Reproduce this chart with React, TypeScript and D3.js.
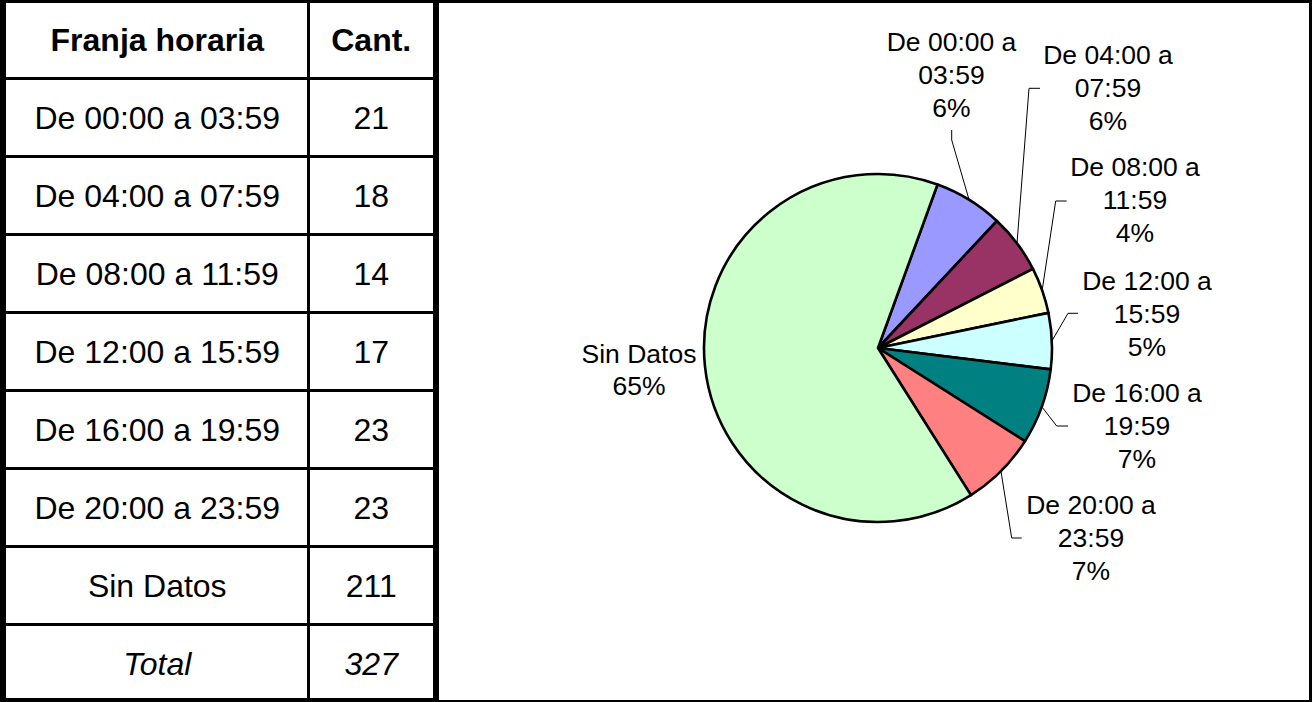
import React from "react";
import * as d3 from "d3";

// ---- Data ----
const headerLabels = ["Franja horaria", "Cant."];
const franjas = [
  "De 00:00 a 03:59",
  "De 04:00 a 07:59",
  "De 08:00 a 11:59",
  "De 12:00 a 15:59",
  "De 16:00 a 19:59",
  "De 20:00 a 23:59",
  "Sin Datos",
];
const cantidades = [21, 18, 14, 17, 23, 23, 211];
const totalLabel = "Total";
const sliceColors = ["#9999FF", "#993366", "#FFFFCC", "#CCFFFF", "#008080", "#FF8080", "#CCFFCC"];

// ---- Layout (not data) ----
const W = 1312;
const H = 702;
const FONT = "'Liberation Sans', Arial, Helvetica, sans-serif";
const colX = [6, 308.5, 436]; // column boundaries
const rowTop = 0.5;
const headerBottom = 78.5;
const rowH = 78;
const tableBottom = 700;

const pieCx = 878;
const pieCy = 348;
const pieR = 174;
const startDeg = 20;

// label layouts: [centerX, firstBaseline, leader start, leader elbow] per slice
const labelLayout: { x: number; y: number; lead?: [number, number][] }[] = [
  { x: 951.5, y: 51, lead: [[951.7, 130], [951.7, 140]] },
  { x: 1108, y: 63.5, lead: [[1040, 88.3], [1029, 88.3]] },
  { x: 1135, y: 176, lead: [[1066.7, 201], [1055.7, 201]] },
  { x: 1147, y: 289.5, lead: [[1078, 313.3], [1068, 313.3]] },
  { x: 1137, y: 401.7, lead: [[1068, 426], [1056.7, 426]] },
  { x: 1091, y: 513.5, lead: [[1021.7, 538], [1011.7, 538]] },
  { x: 639, y: 363.3 },
];
const lineGap = 33;

export default function App() {
  const total = d3.sum(cantidades);
  const tableFont = 32;
  const labelFont = 26.5;

  const pie = d3
    .pie<number>()
    .sort(null)
    .value((d) => d)
    .startAngle((startDeg * Math.PI) / 180)
    .endAngle(((startDeg + 360) * Math.PI) / 180);
  const arcs = pie(cantidades);
  const arcGen = d3.arc<d3.PieArcDatum<number>>().innerRadius(0).outerRadius(pieR);
  const edgeArc = d3.arc<d3.PieArcDatum<number>>().innerRadius(pieR).outerRadius(pieR);

  const rows = [...franjas.map((f, i) => ({ label: f, value: String(cantidades[i]), italic: false })),
    { label: totalLabel, value: String(total), italic: true }];

  const rowCenter = (i: number) => headerBottom + rowH * i + rowH / 2;
  const base = (c: number) => c + tableFont * 0.36;

  const lineSep = d3.line<[number, number]>();

  return (
    <svg width={W} height={H} style={{ position: "absolute", left: 0, top: 0, background: "#fff" }} fontFamily={FONT}>
      <rect x={0} y={0} width={W} height={H} fill="#fff" />
      {/* Table */}
      <g>
        <text x={(colX[0] + colX[1]) / 2} y={base((rowTop + headerBottom) / 2)} fontSize={tableFont} fontWeight="bold" textAnchor="middle">{headerLabels[0]}</text>
        <text x={(colX[1] + colX[2]) / 2 - 1} y={base((rowTop + headerBottom) / 2)} fontSize={tableFont} fontWeight="bold" textAnchor="middle">{headerLabels[1]}</text>
        {rows.map((r, i) => (
          <g key={i}>
            <text x={(colX[0] + colX[1]) / 2} y={base(rowCenter(i))} fontSize={tableFont} textAnchor="middle" fontStyle={r.italic ? "italic" : "normal"}>{r.label}</text>
            <text x={(colX[1] + colX[2]) / 2 - 1} y={base(rowCenter(i))} fontSize={tableFont} textAnchor="middle" fontStyle={r.italic ? "italic" : "normal"}>{r.value}</text>
          </g>
        ))}
        {d3.range(rows.length).map((i) => (
          <line key={i} x1={0} x2={colX[2]} y1={headerBottom + rowH * i} y2={headerBottom + rowH * i} stroke="#000" strokeWidth={3} />
        ))}
        <line x1={colX[1]} x2={colX[1]} y1={0} y2={tableBottom} stroke="#000" strokeWidth={3} />
        <line x1={3} x2={3} y1={0} y2={H} stroke="#000" strokeWidth={6} />
        <line x1={436} x2={436} y1={0} y2={H} stroke="#000" strokeWidth={6} />
        <line x1={0} x2={W} y1={1.5} y2={1.5} stroke="#000" strokeWidth={3} />
        <line x1={0} x2={439} y1={700} y2={700} stroke="#000" strokeWidth={4} />
      </g>
      {/* Chart box */}
      <line x1={1310.5} x2={1310.5} y1={0} y2={H} stroke="#000" strokeWidth={3} />
      <line x1={436} x2={W} y1={701} y2={701} stroke="#000" strokeWidth={2} />

      {/* Pie */}
      <g transform={`translate(${pieCx},${pieCy})`}>
        {arcs.map((a, i) => (
          <path key={i} d={arcGen(a) || ""} fill={sliceColors[i]} stroke="#000" strokeWidth={2.6} strokeLinejoin="round" />
        ))}
      </g>
      {/* Leader lines */}
      {arcs.map((a, i) => {
        const L = labelLayout[i];
        if (!L.lead) return null;
        const [ex, ey] = edgeArc.centroid(a);
        const pts: [number, number][] = [...L.lead, [pieCx + ex, pieCy + ey]];
        return <path key={i} d={lineSep(pts) || ""} fill="none" stroke="#000" strokeWidth={1} />;
      })}
      {/* Labels */}
      {arcs.map((a, i) => {
        const L = labelLayout[i];
        const name = franjas[i];
        const pct = d3.format(".0%")(a.data / total);
        const parts = name.includes(" a ")
          ? [name.slice(0, name.indexOf(" a ") + 2), name.slice(name.indexOf(" a ") + 3)]
          : [name];
        const lines = [...parts, pct];
        const gap = parts.length === 1 ? 32 : lineGap;
        return (
          <text key={i} x={L.x} y={L.y} fontSize={labelFont} textAnchor="middle" fill="#000">
            {lines.map((t, j) => (
              <tspan key={j} x={L.x} y={L.y + j * gap}>{t}</tspan>
            ))}
          </text>
        );
      })}
    </svg>
  );
}
